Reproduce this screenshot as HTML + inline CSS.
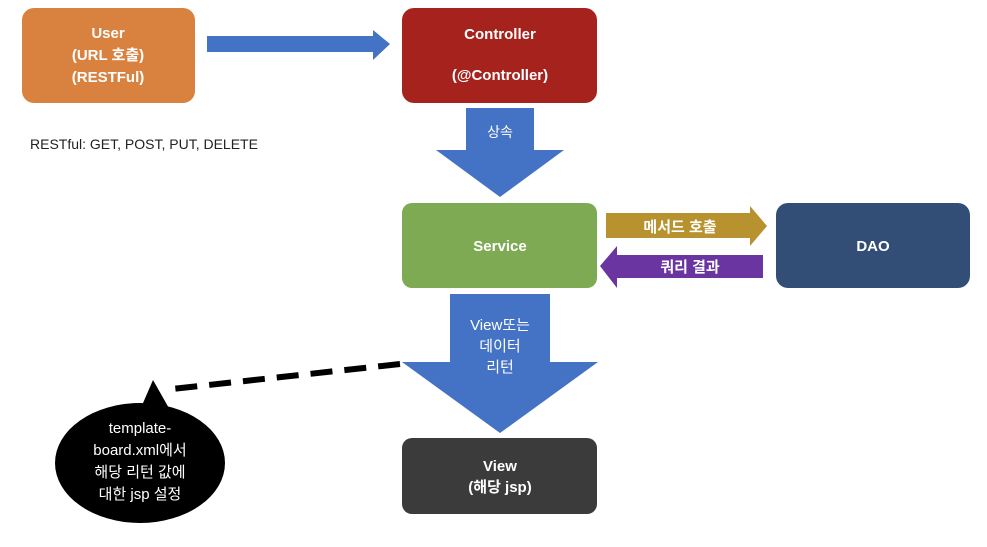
<!DOCTYPE html>
<html><head><meta charset="utf-8"><style>
body{margin:0;background:#fff;width:987px;height:542px;overflow:hidden}
</style></head><body>
<svg width="987" height="542" xmlns="http://www.w3.org/2000/svg" font-family="Liberation Sans, Noto Sans CJK KR, sans-serif">
<rect x="22" y="8" width="173" height="95" rx="12" fill="#D9823F"/>
<g fill="#fff" font-weight="bold" font-size="15" text-anchor="middle">
<text x="108" y="38">User</text><text x="108" y="60">(URL 호출)</text><text x="108" y="82">(RESTFul)</text></g>
<polygon points="207,36 373,36 373,30 390,44 373,60 373,52 207,52" fill="#4472C4"/>
<rect x="402" y="8" width="195" height="95" rx="12" fill="#A5231C"/>
<g fill="#fff" font-weight="bold" font-size="15" text-anchor="middle">
<text x="500" y="39">Controller</text><text x="500" y="80">(@Controller)</text></g>
<text x="30" y="149" font-size="14" fill="#222">RESTful: GET, POST, PUT, DELETE</text>
<polygon points="466,108 534,108 534,150 564,150 500,197 436,150 466,150" fill="#4472C4"/>
<text x="500" y="137" fill="#fff" font-size="14" text-anchor="middle">상속</text>
<rect x="402" y="203" width="195" height="85" rx="10" fill="#7FAA54"/>
<text x="500" y="251" fill="#fff" font-weight="bold" font-size="15" text-anchor="middle">Service</text>
<polygon points="606,213 750,213 750,206 767,226 750,246 750,238 606,238" fill="#B8922E"/>
<text x="680" y="232" fill="#fff" font-weight="bold" font-size="15" text-anchor="middle">메서드 호출</text>
<polygon points="763,255 617,255 617,246 600,266 617,288 617,278 763,278" fill="#6A35A0"/>
<text x="690" y="272" fill="#fff" font-weight="bold" font-size="15" text-anchor="middle">쿼리 결과</text>
<rect x="776" y="203" width="194" height="85" rx="12" fill="#324E76"/>
<text x="873" y="251" fill="#fff" font-weight="bold" font-size="15" text-anchor="middle">DAO</text>
<polygon points="450,294 550,294 550,362 598,362 500,433 402,362 450,362" fill="#4472C4"/>
<g fill="#fff" font-size="15" text-anchor="middle">
<text x="500" y="330">View또는</text><text x="500" y="351">데이터</text><text x="500" y="372">리턴</text></g>
<rect x="402" y="438" width="195" height="76" rx="10" fill="#3B3B3B"/>
<g fill="#fff" font-weight="bold" font-size="15" text-anchor="middle">
<text x="500" y="471">View</text><text x="500" y="492">(해당 jsp)</text></g>
<line x1="400" y1="364" x2="172" y2="389" stroke="#000" stroke-width="6" stroke-dasharray="22,12"/>
<ellipse cx="140" cy="463" rx="85" ry="60" fill="#000"/>
<polygon points="140,410 153,380 170,410" fill="#000"/>
<g fill="#fff" font-size="15" text-anchor="middle">
<text x="140" y="433">template-</text><text x="140" y="455">board.xml에서</text><text x="140" y="477">해당 리턴 값에</text><text x="140" y="499">대한 jsp 설정</text></g>
</svg>
</body></html>
